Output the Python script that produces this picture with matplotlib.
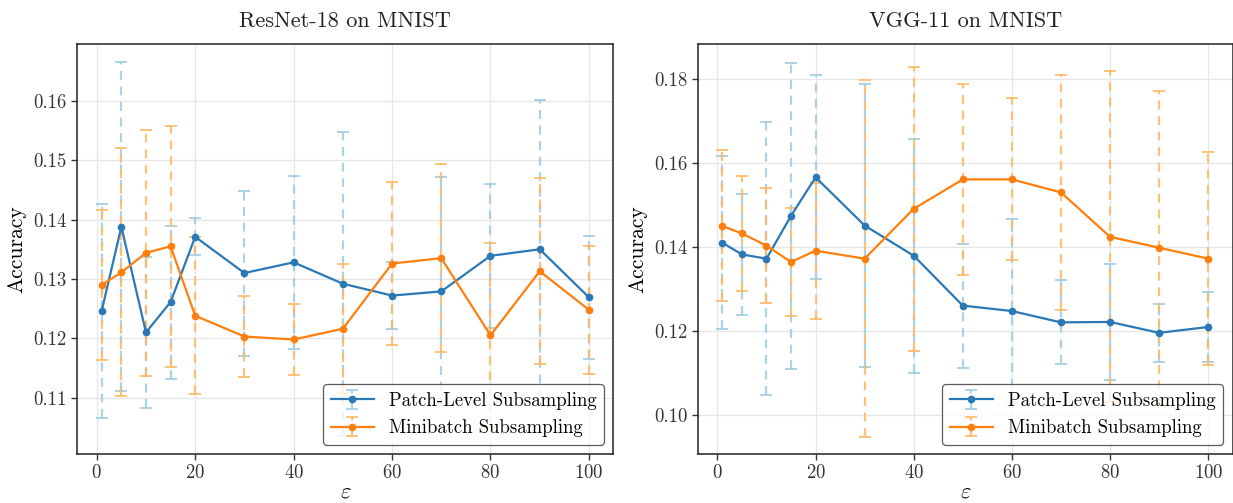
import matplotlib
matplotlib.use("Agg")
import matplotlib.pyplot as plt
from matplotlib.ticker import FormatStrFormatter

plt.rcParams["font.family"] = ["cmr10", "DejaVu Serif"]
plt.rcParams["mathtext.fontset"] = "cm"
plt.rcParams["axes.formatter.use_mathtext"] = True

eps = [1, 5, 10, 15, 20, 30, 40, 50, 60, 70, 80, 90, 100]

# ResNet-18 on MNIST
resnet_patch_mean = [0.1246, 0.1388, 0.1210, 0.1261, 0.1371, 0.1310, 0.1328,
                     0.1292, 0.1272, 0.1279, 0.1339, 0.1350, 0.1269]
resnet_patch_std = [0.0180, 0.0277, 0.0127, 0.0129, 0.0031, 0.0139, 0.0146,
                    0.0256, 0.0056, 0.0193, 0.0121, 0.0252, 0.0104]
resnet_mini_mean = [0.1290, 0.1311, 0.1344, 0.1355, 0.1238, 0.1203, 0.1198,
                    0.1216, 0.1326, 0.1335, 0.1205, 0.1313, 0.1248]
resnet_mini_std = [0.0127, 0.0209, 0.0207, 0.0203, 0.0132, 0.0068, 0.0060,
                   0.0109, 0.0138, 0.0158, 0.0155, 0.0157, 0.0108]

# VGG-11 on MNIST
vgg_patch_mean = [0.1410, 0.1382, 0.1372, 0.1474, 0.1566, 0.1451, 0.1379,
                  0.1260, 0.1247, 0.1220, 0.1221, 0.1195, 0.1209]
vgg_patch_std = [0.0206, 0.0144, 0.0326, 0.0365, 0.0243, 0.0338, 0.0279,
                 0.0148, 0.0220, 0.0100, 0.0139, 0.0069, 0.0083]
vgg_mini_mean = [0.1450, 0.1432, 0.1403, 0.1364, 0.1391, 0.1372, 0.1491,
                 0.1561, 0.1561, 0.1530, 0.1424, 0.1398, 0.1372]
vgg_mini_std = [0.0180, 0.0136, 0.0138, 0.0128, 0.0162, 0.0426, 0.0339,
                0.0228, 0.0193, 0.0281, 0.0395, 0.0374, 0.0254]

titles = ["ResNet-18 on MNIST", "VGG-11 on MNIST"]
labels = ["Patch-Level Subsampling", "Minibatch Subsampling"]

BLUE, BLUE_LIGHT = "#2a79b6", "#9ecae1"
ORANGE, ORANGE_LIGHT = "#ff7f0e", "#ffb760"

W, H = 1233, 503
fig = plt.figure(figsize=(W / 100, H / 100), dpi=100)
ax_left = fig.add_axes([77.3 / W, 49 / H, 536 / W, 410 / H])
ax_right = fig.add_axes([698 / W, 49 / H, 534.5 / W, 410 / H])

panels = [
    (ax_left, resnet_patch_mean, resnet_patch_std, resnet_mini_mean, resnet_mini_std),
    (ax_right, vgg_patch_mean, vgg_patch_std, vgg_mini_mean, vgg_mini_std),
]

for (ax, pm, ps, mm, ms), title in zip(panels, titles):
    for mean, std, c, cl, lab in [(pm, ps, BLUE, BLUE_LIGHT, labels[0]),
                                  (mm, ms, ORANGE, ORANGE_LIGHT, labels[1])]:
        cont = ax.errorbar(eps, mean, yerr=std, fmt="o-", color=c, ecolor=cl,
                           elinewidth=1.6, capsize=4, capthick=1.4,
                           markersize=4.5, linewidth=1.6, label=lab)
        for bl in cont[2]:
            bl.set_linestyle((0, (4, 3)))
            bl.set_alpha(0.85)
            bl.set_zorder(1)
        for cap in cont[1]:
            cap.set_alpha(0.85)
            cap.set_zorder(1)
        cont[0].set_zorder(3)

    ax.set_title(title, fontsize=16, pad=12, color="#222222")
    ax.set_xlabel(r"$\varepsilon$", fontsize=16, labelpad=0)
    ax.set_ylabel("Accuracy", fontsize=15.5, labelpad=5)
    ax.set_xticks([0, 20, 40, 60, 80, 100])
    ax.grid(True, color="#e6e6e6", linewidth=0.9)
    ax.set_axisbelow(True)
    ax.tick_params(labelsize=13.5, colors="#333333", length=4, width=1)
    for sp in ax.spines.values():
        sp.set_color("#222222")
        sp.set_linewidth(1.1)
    leg = ax.legend(loc="lower right", fontsize=13.5, framealpha=0.8,
                    edgecolor="#333333", fancybox=True, handlelength=2.3)
    leg.get_frame().set_linewidth(0.9)
    ax.yaxis.set_major_formatter(FormatStrFormatter("%.2f"))

ax_left.set_yticks([0.11, 0.12, 0.13, 0.14, 0.15, 0.16])
ax_right.set_yticks([0.10, 0.12, 0.14, 0.16, 0.18])
ax_left.set_ylim(0.1005, 0.1696)
ax_right.set_ylim(0.0906, 0.1884)

fig.savefig("out.png", dpi=100)
